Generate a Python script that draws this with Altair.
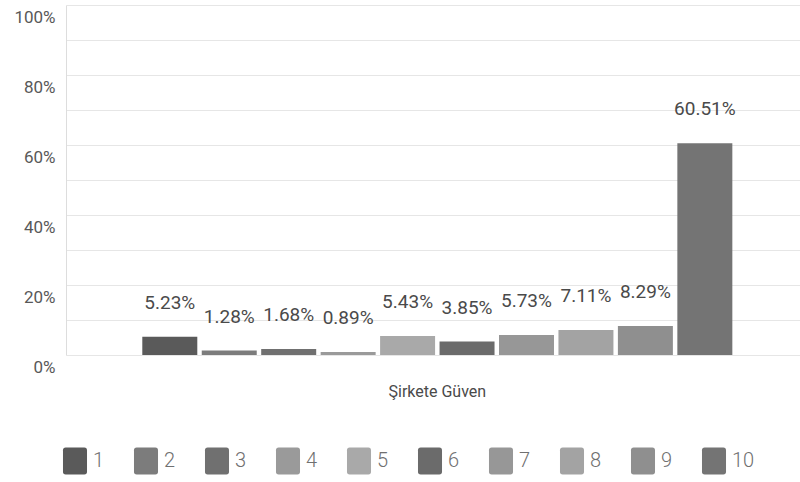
import altair as alt
import pandas as pd

# Trust score distribution (1-10) for a single survey item
category = ["Şirkete Güven"]
scores = ["1", "2", "3", "4", "5", "6", "7", "8", "9", "10"]
shares = [5.23, 1.28, 1.68, 0.89, 5.43, 3.85, 5.73, 7.11, 8.29, 60.51]
bar_colors = ["#5a5a5a", "#7c7c7c", "#707070", "#9a9a9a", "#a9a9a9",
              "#6b6b6b", "#979797", "#a3a3a3", "#8f8f8f", "#747474"]
y_ticks = [0, 10, 20, 30, 40, 50, 60, 70, 80, 90, 100]

df = pd.DataFrame({
    "kategori": category * len(scores),
    "puan": scores,
    "oran": shares,
})
df["etiket"] = [f"{v:.2f}%" for v in shares]

FONT = "Roboto"

x_enc = alt.X(
    "kategori:N",
    title=None,
    scale=alt.Scale(paddingInner=0, paddingOuter=0.122, align=0.53),
    axis=alt.Axis(domain=False, ticks=False, labelAngle=0, labelPadding=28,
                  labelFontSize=16, labelColor="#4a4a4a", labelFont=FONT),
)
xoff_enc = alt.XOffset(
    "puan:N", sort=scores,
    scale=alt.Scale(paddingInner=0.075, paddingOuter=0),
)
y_enc = alt.Y(
    "oran:Q",
    title=None,
    scale=alt.Scale(domain=[0, 100], nice=False),
    axis=alt.Axis(values=y_ticks, grid=True, gridColor="#e6e6e6", ticks=False,
                  domain=True, domainColor="#dddddd",
                  labelExpr="datum.value % 20 == 0 ? datum.value + '%' : ''",
                  labelFontSize=17, labelColor="#585858", labelFont=FONT,
                  labelPadding=11, labelOffset=12),
)

legend_shape = ("M-0.69,-1H0.69Q0.89,-1 0.89,-0.8V0.8Q0.89,1 0.69,1H-0.69"
                "Q-0.89,1 -0.89,0.8V-0.8Q-0.89,-1 -0.69,-1Z")

bars = alt.Chart(df).mark_bar().encode(
    x=x_enc,
    xOffset=xoff_enc,
    y=y_enc,
    color=alt.Color(
        "puan:N", sort=scores,
        scale=alt.Scale(domain=scores, range=bar_colors),
        legend=alt.Legend(
            title=None, orient="none", direction="horizontal", columns=10,
            gridAlign="all", legendX=-4.5, legendY=442.5, padding=0,
            symbolType=legend_shape, symbolSize=729, symbolStrokeWidth=0,
            symbolOpacity=1, labelFont=FONT, labelFontSize=20,
            labelFontWeight=300, labelColor="#707070", labelOffset=4.5,
            columnPadding=17,
        ),
    ),
)

labels = alt.Chart(df).mark_text(
    dy=-34, fontSize=19, font=FONT, color="#4a4a4a", baseline="middle"
).encode(
    x=x_enc,
    xOffset=xoff_enc,
    y=y_enc,
    text="etiket:N",
)

chart = (
    alt.layer(bars, labels)
    .properties(
        width=734, height=350,
        autosize=alt.AutoSizeParams(type="none"),
        padding={"left": 66, "top": 5, "right": 0, "bottom": 127},
        background="white",
    )
    .configure_view(strokeWidth=0)
)

chart.save("out.html", embed_options={"renderer": "svg", "actions": False})
